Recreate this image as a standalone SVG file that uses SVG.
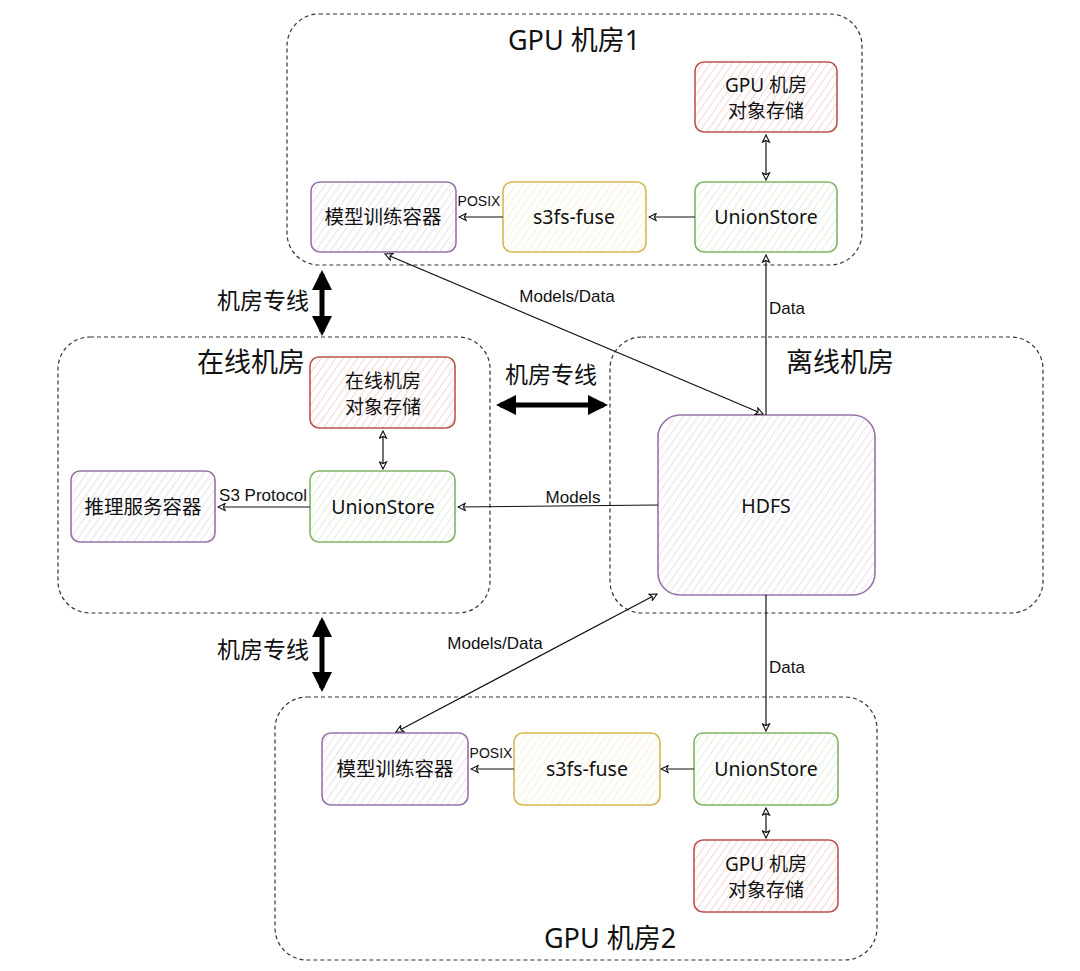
<svg xmlns="http://www.w3.org/2000/svg" width="1080" height="971" viewBox="0 0 1080 971">
<style>
.grp{fill:none;stroke:#333;stroke-width:1.2;stroke-dasharray:4 3}
.t{font-family:"Noto Sans","Noto Sans CJK SC",sans-serif;fill:#111;text-anchor:middle}
.title{font-size:27px}
.nt{font-size:19.5px}
.nt2{font-size:19px}
.lbl{font-family:"Liberation Sans","Noto Sans CJK SC",sans-serif;font-size:17px;fill:#111;text-anchor:middle}
.sm{font-size:14px}
.zx{font-size:23px}
.red{fill:url(#hr);stroke:#b85450;stroke-width:1.6}
.grn{fill:url(#hg);stroke:#82b366;stroke-width:1.6}
.yel{fill:url(#hy);stroke:#d6b656;stroke-width:1.6}
.pur{fill:url(#hp);stroke:#9673a6;stroke-width:1.6}
.c{fill:none;stroke:#111;stroke-width:1.2}
.thick{fill:none;stroke:#000;stroke-width:5}
</style>
<defs>
<pattern id="hr" width="6" height="6" patternUnits="userSpaceOnUse" patternTransform="rotate(35)"><rect width="6" height="6" fill="#fff"/><line x1="0" y1="0" x2="0" y2="6" stroke="#f3b8b5" stroke-width="1.2"/></pattern>
<pattern id="hg" width="6" height="6" patternUnits="userSpaceOnUse" patternTransform="rotate(35)"><rect width="6" height="6" fill="#fff"/><line x1="0" y1="0" x2="0" y2="6" stroke="#cfe3c7" stroke-width="1.2"/></pattern>
<pattern id="hy" width="6" height="6" patternUnits="userSpaceOnUse" patternTransform="rotate(35)"><rect width="6" height="6" fill="#fff"/><line x1="0" y1="0" x2="0" y2="6" stroke="#fbe9b8" stroke-width="1.2"/></pattern>
<pattern id="hp" width="6" height="6" patternUnits="userSpaceOnUse" patternTransform="rotate(35)"><rect width="6" height="6" fill="#fff"/><line x1="0" y1="0" x2="0" y2="6" stroke="#dccfe3" stroke-width="1.2"/></pattern>
<marker id="ae" viewBox="0 0 10 10" refX="9" refY="5" markerWidth="9" markerHeight="9" markerUnits="userSpaceOnUse" orient="auto-start-reverse"><path d="M1,1 L9,5 L1,9 L3,5 Z" fill="#fff" stroke="#111" stroke-width="1.2"/></marker>
<marker id="ab" viewBox="0 0 10 10" refX="8" refY="5" markerWidth="4" markerHeight="4" orient="auto-start-reverse"><path d="M0,0 L10,5 L0,10 Z" fill="#000"/></marker>
</defs>

<g id="gpu1">
<rect class="grp" x="287" y="14" width="575" height="251" rx="32"/>
<text class="t title" x="574" y="50">GPU 机房1</text>
</g>
<g id="online">
<rect class="grp" x="58" y="337" width="432" height="276" rx="32"/>
<text class="t title" x="251" y="372">在线机房</text>
</g>
<g id="offline">
<rect class="grp" x="610" y="337" width="433" height="276" rx="32"/>
<text class="t title" x="840" y="372">离线机房</text>
</g>
<g id="gpu2">
<rect class="grp" x="275" y="697" width="602" height="263" rx="32"/>
<text class="t title" x="610" y="948">GPU 机房2</text>
</g>

<g id="gpu1-store"><rect class="red" x="695" y="62" width="142" height="70" rx="9"/><text class="t nt2" x="766" y="92">GPU 机房</text><text class="t nt2" x="766" y="118">对象存储</text></g>
<g id="gpu1-union"><rect class="grn" x="695" y="182" width="142" height="70" rx="9"/><text class="t nt" x="766" y="224">UnionStore</text></g>
<g id="gpu1-s3fs"><rect class="yel" x="503" y="182" width="143" height="70" rx="9"/><text class="t nt" x="574" y="224">s3fs-fuse</text></g>
<g id="gpu1-train"><rect class="pur" x="311" y="182" width="145" height="70" rx="9"/><text class="t nt" x="383" y="224">模型训练容器</text></g>

<g id="online-store"><rect class="red" x="310" y="357" width="145" height="71" rx="9"/><text class="t nt2" x="383" y="388">在线机房</text><text class="t nt2" x="383" y="414">对象存储</text></g>
<g id="online-union"><rect class="grn" x="310" y="471" width="145" height="71" rx="9"/><text class="t nt" x="383" y="514">UnionStore</text></g>
<g id="online-infer"><rect class="pur" x="71" y="471" width="144" height="71" rx="9"/><text class="t nt" x="143" y="514">推理服务容器</text></g>

<g id="hdfs"><rect class="pur" x="658" y="415" width="217" height="180" rx="22"/><text class="t nt" x="766" y="513">HDFS</text></g>

<g id="gpu2-train"><rect class="pur" x="322" y="733" width="146" height="72" rx="9"/><text class="t nt" x="395" y="776">模型训练容器</text></g>
<g id="gpu2-s3fs"><rect class="yel" x="514" y="733" width="146" height="72" rx="9"/><text class="t nt" x="587" y="776">s3fs-fuse</text></g>
<g id="gpu2-union"><rect class="grn" x="694" y="733" width="144" height="72" rx="9"/><text class="t nt" x="766" y="776">UnionStore</text></g>
<g id="gpu2-store"><rect class="red" x="694" y="840" width="144" height="72" rx="9"/><text class="t nt2" x="766" y="871">GPU 机房</text><text class="t nt2" x="766" y="897">对象存储</text></g>

<g id="connectors">
<line class="c" x1="695" y1="217" x2="649" y2="217" marker-end="url(#ae)"/>
<line class="c" x1="503" y1="217" x2="459" y2="217" marker-end="url(#ae)"/>
<text class="lbl sm" x="479" y="206">POSIX</text>
<line class="c" x1="766" y1="135" x2="766" y2="180" marker-start="url(#ae)" marker-end="url(#ae)"/>

<line class="c" x1="383" y1="431" x2="383" y2="469" marker-start="url(#ae)" marker-end="url(#ae)"/>
<line class="c" x1="310" y1="507" x2="218" y2="507" marker-end="url(#ae)"/>
<text class="lbl" x="263" y="501">S3 Protocol</text>
<line class="c" x1="658" y1="505" x2="458" y2="507" marker-end="url(#ae)"/>
<text class="lbl" x="573" y="503">Models</text>

<line class="c" x1="385" y1="254" x2="763" y2="414" marker-start="url(#ae)" marker-end="url(#ae)"/>
<text class="lbl" x="567" y="302">Models/Data</text>
<line class="c" x1="766" y1="415" x2="766" y2="255" marker-end="url(#ae)"/>
<text class="lbl" x="787" y="314">Data</text>

<line class="c" x1="766" y1="595" x2="766" y2="731" marker-end="url(#ae)"/>
<text class="lbl" x="787" y="673">Data</text>
<line class="c" x1="396" y1="732" x2="657" y2="594" marker-start="url(#ae)" marker-end="url(#ae)"/>
<text class="lbl" x="495" y="649">Models/Data</text>

<line class="c" x1="766" y1="808" x2="766" y2="838" marker-start="url(#ae)" marker-end="url(#ae)"/>
<line class="c" x1="694" y1="769" x2="661" y2="769" marker-end="url(#ae)"/>
<line class="c" x1="514" y1="769" x2="471" y2="769" marker-end="url(#ae)"/>
<text class="lbl sm" x="491" y="758">POSIX</text>

<line class="thick" x1="322" y1="274" x2="322" y2="332" marker-start="url(#ab)" marker-end="url(#ab)"/>
<text class="t zx" x="263" y="309">机房专线</text>
<line class="thick" x1="322" y1="621" x2="322" y2="688" marker-start="url(#ab)" marker-end="url(#ab)"/>
<text class="t zx" x="263" y="658">机房专线</text>
<line class="thick" x1="500" y1="405" x2="604" y2="405" marker-start="url(#ab)" marker-end="url(#ab)"/>
<text class="t zx" x="551" y="383">机房专线</text>
</g>
</svg>
